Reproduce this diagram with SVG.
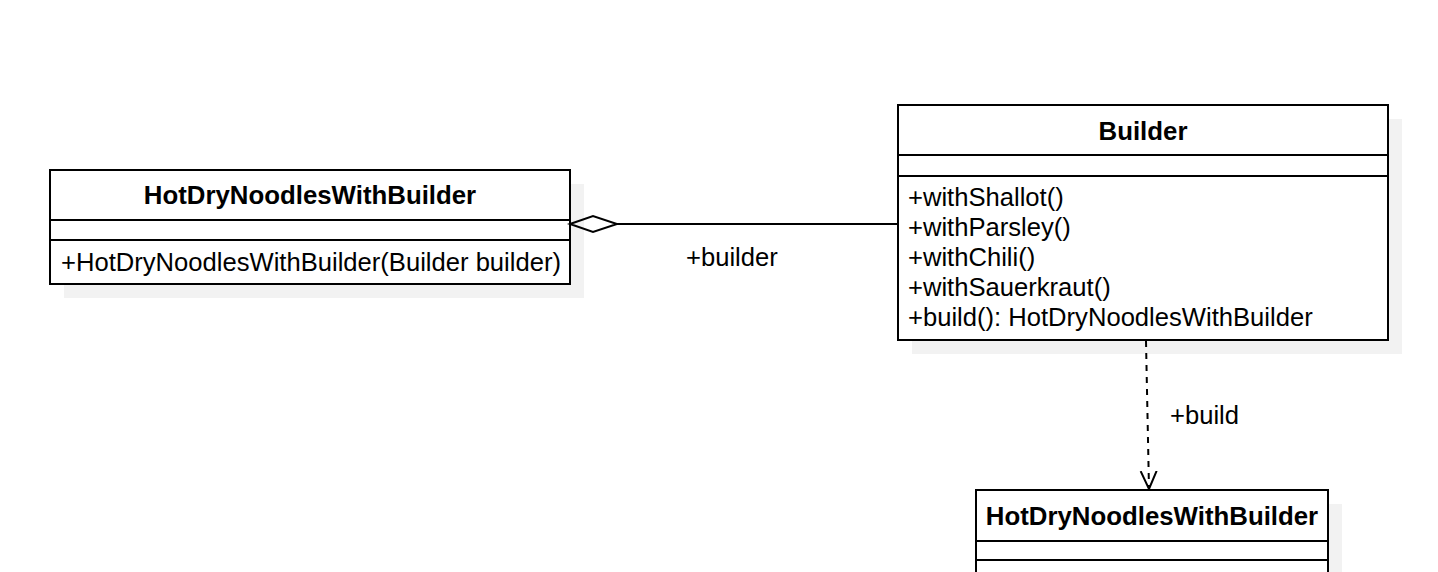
<svg xmlns="http://www.w3.org/2000/svg" width="1438" height="572" viewBox="0 0 1438 572">
<style>
.box{fill:#ffffff;stroke:#000000;stroke-width:2}
.shadow{fill:#f2f2f2}
.div{stroke:#000000;stroke-width:2;fill:none}
.t{font-family:"Liberation Sans",Arial,sans-serif;font-size:25.6px;fill:#000000}
.b{font-weight:bold;text-anchor:middle;font-size:25.8px}
.edge{stroke:#000000;stroke-width:2;fill:none}
</style>
<defs>
<marker id="open" markerWidth="20" markerHeight="24" refX="18" refY="10" orient="auto" markerUnits="userSpaceOnUse" viewBox="0 0 20 20">
<path d="M0,2 L18,10 L0,18" fill="none" stroke="#000" stroke-width="2"/>
</marker>
</defs>
<rect width="1438" height="572" fill="#ffffff"/>
<g id="node-hotdry-left">
<rect class="shadow" x="64" y="184" width="520" height="114"/>
<rect class="box" x="50" y="170" width="520" height="114"/>
<line class="div" x1="50" y1="220" x2="570" y2="220"/>
<line class="div" x1="50" y1="240" x2="570" y2="240"/>
<text class="t b" x="310" y="204">HotDryNoodlesWithBuilder</text>
<text class="t" x="61" y="271">+HotDryNoodlesWithBuilder(Builder builder)</text>
</g>
<g id="node-builder">
<rect class="shadow" x="912" y="119" width="490" height="235"/>
<rect class="box" x="898" y="105" width="490" height="235"/>
<line class="div" x1="898" y1="155" x2="1388" y2="155"/>
<line class="div" x1="898" y1="176" x2="1388" y2="176"/>
<text class="t b" x="1143" y="140">Builder</text>
<text class="t" x="908" y="206">+withShallot()</text>
<text class="t" x="908" y="236">+withParsley()</text>
<text class="t" x="908" y="266">+withChili()</text>
<text class="t" x="908" y="296">+withSauerkraut()</text>
<text class="t" x="908" y="326">+build(): HotDryNoodlesWithBuilder</text>
</g>
<g id="node-hotdry-bottom">
<rect class="shadow" x="990" y="504" width="352" height="100"/>
<rect class="box" x="976" y="490" width="352" height="110"/>
<line class="div" x1="976" y1="541" x2="1328" y2="541"/>
<line class="div" x1="976" y1="560" x2="1328" y2="560"/>
<text class="t b" x="1152" y="525">HotDryNoodlesWithBuilder</text>
</g>
<g id="connectors">
<path class="edge" d="M570,224 L593,216 L617,224 L593,232 Z" fill="#ffffff"/>
<line class="edge" x1="617" y1="224" x2="898" y2="224"/>
<text class="t" x="686" y="266">+builder</text>
<path class="edge" d="M1146,341 L1149,489" stroke-dasharray="6,6" marker-end="url(#open)"/>
<text class="t" x="1170" y="424">+build</text>
</g>
</svg>
